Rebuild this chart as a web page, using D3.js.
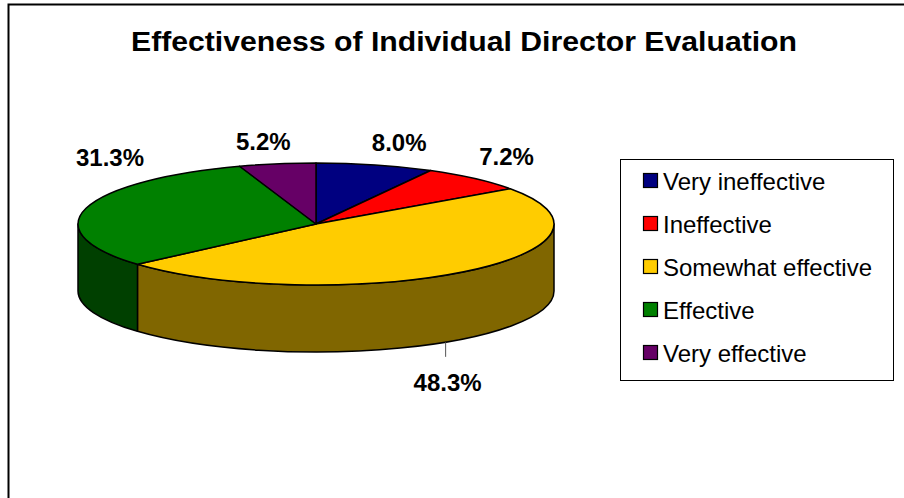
<!DOCTYPE html>
<html>
<head>
<meta charset="utf-8">
<script src="https://cdn.jsdelivr.net/npm/d3@7"></script>
<style>
  body { margin: 0; background: #fff; }
  svg { display: block; font-family: "Liberation Sans", Arial, sans-serif; }
</style>
</head>
<body>
<div class="chart"></div>
<script>
// Paramètres
const width = 904;
const height = 498;

// Données
const categories = ["Very ineffective", "Ineffective", "Somewhat effective", "Effective", "Very effective"];
const values = [8.0, 7.2, 48.3, 31.3, 5.2];
const labels = ["8.0%", "7.2%", "48.3%", "31.3%", "5.2%"];

// Couleurs (dessus / côté)
const topColors = ["#000080", "#ff0000", "#ffcc00", "#008000", "#660066"];
const sideColors = ["#000040", "#800000", "#806600", "#004000", "#330033"];

// Décalage des étiquettes par rapport au bord de l'ellipse
const labelNudge = [[24, -22], [32, -22], [-16, 44], [24, -51], [-14, -22]];

// Géométrie du camembert 3D
const cx = 316, cy = 224, rx = 238, ry = 61, depth = 67;

const svg = d3.select(".chart")
  .append("svg")
  .attr("width", width)
  .attr("height", height);

// Cadre
svg.append("path")
  .attr("d", `M8.5,${height} V4.5 H${width}`)
  .attr("fill", "none")
  .attr("stroke", "#000")
  .attr("stroke-width", 2);

// Titre
svg.append("text")
  .attr("x", 464)
  .attr("y", 51)
  .attr("text-anchor", "middle")
  .attr("textLength", 666)
  .attr("lengthAdjust", "spacingAndGlyphs")
  .style("font-size", "28px")
  .style("font-weight", "bold")
  .text("Effectiveness of Individual Director Evaluation");

const pie = d3.pie().sort(null).value(d => d);
const arcs = pie(values).map((a, i) => ({ ...a, i }));

const pt = (a, dy = 0) => [cx + rx * Math.sin(a), cy - ry * Math.cos(a) + dy];

// Faces latérales (moitié avant : de PI/2 à 3PI/2)
const sides = svg.append("g");
arcs.forEach(d => {
  const s = Math.max(d.startAngle, Math.PI / 2);
  const e = Math.min(d.endAngle, 3 * Math.PI / 2);
  if (e <= s) return;
  const large = (e - s) > Math.PI ? 1 : 0;
  const t0 = pt(s), t1 = pt(e), b1 = pt(e, depth), b0 = pt(s, depth);
  const dstr = `M${t0}A${rx},${ry} 0 ${large} 1 ${t1}L${b1}A${rx},${ry} 0 ${large} 0 ${b0}Z`;
  sides.append("path")
    .attr("d", dstr)
    .attr("fill", sideColors[d.i])
    .attr("stroke", "#000")
    .attr("stroke-width", 1.5)
    .attr("stroke-linejoin", "round");
});

// Faces du dessus
const tops = svg.append("g");
tops.selectAll("path")
  .data(arcs)
  .join("path")
  .attr("d", d => {
    const large = (d.endAngle - d.startAngle) > Math.PI ? 1 : 0;
    return `M${cx},${cy}L${pt(d.startAngle)}A${rx},${ry} 0 ${large} 1 ${pt(d.endAngle)}Z`;
  })
  .attr("fill", d => topColors[d.i])
  .attr("stroke", "#000")
  .attr("stroke-width", 1.5)
  .attr("stroke-linejoin", "round");

// Étiquettes
const labelG = svg.append("g")
  .attr("text-anchor", "middle")
  .style("font-size", "24px")
  .style("font-weight", "bold");

arcs.forEach(d => {
  const mid = (d.startAngle + d.endAngle) / 2;
  const front = Math.cos(mid) < 0;
  const [ex, ey] = pt(mid, front ? depth : 0);
  const lx = ex + labelNudge[d.i][0];
  const ly = ey + labelNudge[d.i][1];
  if (front) {
    // trait de rappel vertical
    const a = Math.PI - Math.asin((lx - 2 - cx) / rx);
    const yEdge = pt(a, depth)[1];
    svg.append("line")
      .attr("x1", lx - 2).attr("x2", lx - 2)
      .attr("y1", yEdge).attr("y2", ly - 26)
      .attr("stroke", "#555")
      .attr("stroke-width", 1);
  }
  labelG.append("text")
    .attr("x", lx)
    .attr("y", ly)
    .attr("dy", "0.35em")
    .text(labels[d.i]);
});

// Légende
const legend = svg.append("g");
legend.append("rect")
  .attr("x", 620.5).attr("y", 159.5)
  .attr("width", 273).attr("height", 221)
  .attr("fill", "#fff")
  .attr("stroke", "#000")
  .attr("stroke-width", 1);

const legendY = d3.scalePoint()
  .domain(categories)
  .range([181, 353]);

const items = legend.selectAll("g.item")
  .data(categories)
  .join("g")
  .attr("class", "item")
  .attr("transform", d => `translate(0, ${legendY(d)})`);

items.append("rect")
  .attr("x", 643.5).attr("y", -7.5)
  .attr("width", 14).attr("height", 14)
  .attr("fill", (d, i) => topColors[i])
  .attr("stroke", "#000")
  .attr("stroke-width", 1.2);

items.append("text")
  .attr("x", 663)
  .attr("y", 0)
  .attr("dy", "0.36em")
  .style("font-size", "24px")
  .text(d => d);
</script>
</body>
</html>
